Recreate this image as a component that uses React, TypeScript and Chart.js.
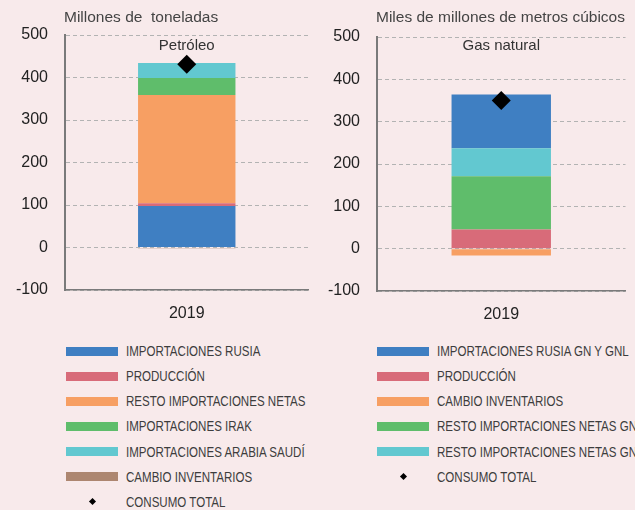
import React, { useEffect, useRef } from 'react';
import { Chart, registerables } from 'chart.js';

Chart.register(...registerables);

// ---------- data ----------
const categories = ['2019'];
const yMin = -100;
const yMax = 500;
const yStep = 100;

const oilUnit = 'Millones de  toneladas';
const oilTitle = 'Petróleo';
const oilLabels = [
  'IMPORTACIONES RUSIA',
  'PRODUCCIÓN',
  'RESTO IMPORTACIONES NETAS',
  'IMPORTACIONES IRAK',
  'IMPORTACIONES ARABIA SAUDÍ',
  'CAMBIO INVENTARIOS',
];
const oilValues = [97.5, 6.5, 255, 40, 35, -1.5];
const oilStackOrder = [0, 1, 2, 3, 4, 5];
const oilTotal = [431];

const gasUnit = 'Miles de millones de metros cúbicos';
const gasTitle = 'Gas natural';
const gasLabels = [
  'IMPORTACIONES RUSIA GN Y GNL',
  'PRODUCCIÓN',
  'CAMBIO INVENTARIOS',
  'RESTO IMPORTACIONES NETAS GN',
  'RESTO IMPORTACIONES NETAS GNL',
];
const gasValues = [127, 45, -16, 126, 66];
const gasStackOrder = [4, 0, 1, 2, 3];
const gasTotal = [350];

const totalLabel = 'CONSUMO TOTAL';

// ---------- styles ----------
const BG = '#f8eaeb';
const oilColors = ['#3f7fc2', '#d86b79', '#f79f63', '#5fbd6b', '#62c8d0', '#ad8670'];
const gasColors = ['#3f7fc2', '#d86b79', '#f79f63', '#5fbd6b', '#62c8d0'];
const FONT = '"Liberation Sans", Arial, Helvetica, sans-serif';

Chart.defaults.font.family = FONT;

type PanelProps = {
  unit: string;
  title: string;
  labels: string[];
  values: number[];
  colors: string[];
  stackOrder: number[];
  total: number[];
  width: number;
  height: number;
  axisLeft: number;
  padRight: number;
  top: number;
  bottom: number;
};

function Panel(p: PanelProps) {
  const ref = useRef<HTMLCanvasElement | null>(null);
  useEffect(() => {
    if (!ref.current) return;
    const textPlugin = {
      id: 'panelTexts',
      afterDraw(chart: any) {
        const { ctx, chartArea } = chart;
        ctx.save();
        ctx.font = '15.5px ' + FONT;
        ctx.fillStyle = '#444';
        ctx.textBaseline = 'middle';
        ctx.textAlign = 'left';
        ctx.fillText(p.unit, chartArea.left - 1, 18);
        ctx.font = '15px ' + FONT;
        ctx.fillStyle = '#333';
        ctx.textAlign = 'center';
        ctx.fillText(p.title, (chartArea.left + chartArea.right) / 2, 46);
        ctx.restore();
      },
    };
    const datasets: any[] = p.labels.map((label, i) => ({
      type: 'bar',
      label,
      data: [p.values[i]],
      backgroundColor: p.colors[i],
      borderWidth: 0,
      stack: 'main',
      order: p.stackOrder[i],
      barPercentage: 0.4,
      categoryPercentage: 1,
    }));
    datasets.push({
      type: 'line',
      label: totalLabel,
      data: p.total,
      showLine: false,
      stack: 'total',
      order: -1,
      pointStyle: 'rectRot',
      pointRadius: 9.5,
      pointBackgroundColor: '#000',
      pointBorderColor: '#000',
      pointBorderWidth: 0,
    });
    const chart = new Chart(ref.current, {
      type: 'bar',
      data: { labels: categories, datasets },
      options: {
        animation: false,
        responsive: false,
        devicePixelRatio: 1,
        layout: { padding: { left: 0, right: p.padRight, top: p.top, bottom: 0 } },
        plugins: { legend: { display: false }, tooltip: { enabled: false } },
        scales: {
          x: {
            stacked: true,
            grid: { display: false, drawTicks: false },
            border: { display: true, color: '#7a7a7a', width: 1.5 },
            ticks: { font: { size: 16 }, color: '#222', padding: 14 },
            afterFit: (s: any) => {
              s.height = p.height - p.bottom;
              s.paddingLeft = 0;
              s.paddingRight = 0;
            },
          },
          y: {
            stacked: true,
            min: yMin,
            max: yMax,
            ticks: { stepSize: yStep, font: { size: 16 }, color: '#222', padding: 17 },
            grid: { color: '#b3b3b3', lineWidth: 1, drawTicks: false },
            border: { display: true, color: '#7a7a7a', width: 2, dash: [4, 3] },
            afterFit: (s: any) => {
              s.width = p.axisLeft;
            },
          },
        },
      } as any,
      plugins: [textPlugin],
    });
    return () => chart.destroy();
  }, []);
  return <canvas ref={ref} width={p.width} height={p.height} style={{ display: 'block' }} />;
}

type LegendProps = {
  labels: string[];
  colors: string[];
  boxLeft: number;
  textLeft: number;
  top: number;
};

function Legend({ labels, colors, boxLeft, textLeft, top }: LegendProps) {
  const step = 25.15;
  const rows = labels.map((l, i) => ({ label: l, color: colors[i] as string | null }));
  rows.push({ label: totalLabel, color: null });
  return (
    <>
      {rows.map((r, i) => {
        const cy = top + i * step;
        return (
          <React.Fragment key={i}>
            {r.color ? (
              <div
                style={{
                  position: 'absolute',
                  left: boxLeft,
                  top: cy - 4.5,
                  width: 52,
                  height: 9,
                  background: r.color,
                }}
              />
            ) : (
              <div
                style={{
                  position: 'absolute',
                  left: boxLeft + 26 - 2.5,
                  top: cy - 2.5,
                  width: 5,
                  height: 5,
                  background: '#000',
                  transform: 'rotate(45deg)',
                }}
              />
            )}
            <div
              style={{
                position: 'absolute',
                left: textLeft,
                top: cy - 12,
                height: 24,
                lineHeight: '24px',
                fontFamily: FONT,
                fontSize: 15,
                color: '#3d3d3d',
                whiteSpace: 'nowrap',
                transform: 'scaleX(0.77)',
                transformOrigin: '0 50%',
              }}
            >
              {r.label}
            </div>
          </React.Fragment>
        );
      })}
    </>
  );
}

export default function App() {
  useEffect(() => {
    document.body.style.margin = '0';
    document.body.style.background = BG;
  }, []);
  return (
    <div
      style={{
        position: 'absolute',
        left: 0,
        top: 0,
        width: 635,
        height: 510,
        background: BG,
        overflow: 'hidden',
      }}
    >
      <div style={{ position: 'absolute', left: 0, top: 0 }}>
        <Panel
          unit={oilUnit}
          title={oilTitle}
          labels={oilLabels}
          values={oilValues}
          colors={oilColors}
          stackOrder={oilStackOrder}
          total={oilTotal}
          width={318}
          height={330}
          axisLeft={65}
          padRight={8}
          top={35}
          bottom={290}
        />
      </div>
      <div style={{ position: 'absolute', left: 318, top: 0 }}>
        <Panel
          unit={gasUnit}
          title={gasTitle}
          labels={gasLabels}
          values={gasValues}
          colors={gasColors}
          stackOrder={gasStackOrder}
          total={gasTotal}
          width={317}
          height={330}
          axisLeft={59}
          padRight={0}
          top={37}
          bottom={291}
        />
      </div>
      <Legend labels={oilLabels} colors={oilColors} boxLeft={66} textLeft={126} top={351} />
      <Legend labels={gasLabels} colors={gasColors} boxLeft={377} textLeft={437} top={351} />
    </div>
  );
}
